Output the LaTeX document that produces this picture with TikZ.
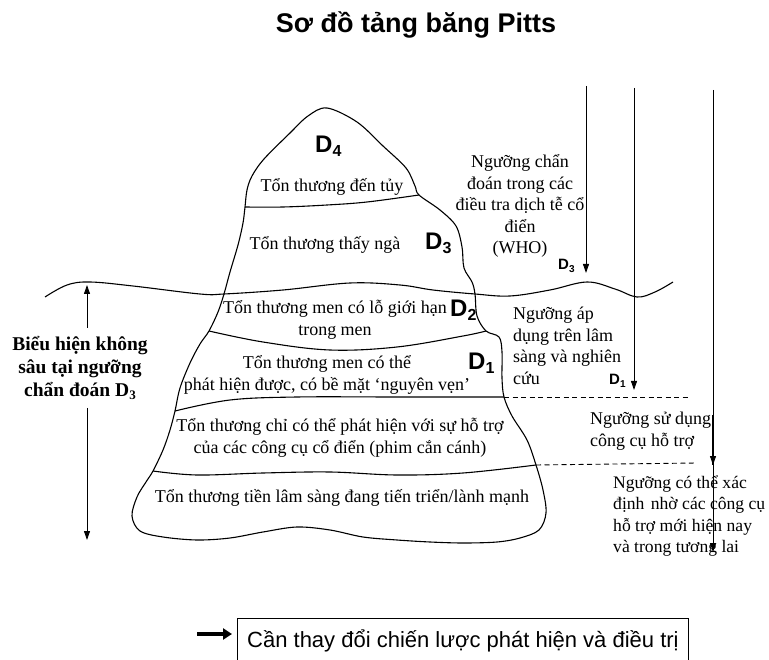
\documentclass[tikz,border=0pt]{standalone}
\usepackage{fontspec}
\usepackage{graphicx}
\setmainfont{Liberation Serif}
\newfontfamily\arialfont{Liberation Sans}
\usetikzlibrary{arrows.meta}

\newcommand\fsz[2]{\fontsize{#1}{#2}\selectfont}
% large grade labels inside the iceberg
\newcommand\Dbig[1]{{\arialfont\bfseries\fsz{24}{24}D\raisebox{-4pt}{\fsz{16}{16}#1}}}
% small grade labels at the threshold arrows
\newcommand\Dsmall[1]{{\arialfont\bfseries\fsz{15}{15}D\raisebox{-2.5pt}{\fsz{10}{10}#1}}}

\tikzset{
  berg/.style={line width=1.1pt, line join=round},
  band/.style={line width=1.1pt},
  dashline/.style={line width=0.9pt, dash pattern=on 5pt off 3.5pt},
  thresh/.style={line width=0.9pt, -{Triangle[length=9pt,width=6pt]}},
  lbl/.style={inner sep=0pt, font=\fsz{18}{21.5}, align=center},
  lblL/.style={inner sep=0pt, font=\fsz{18}{21.5}, align=left, anchor=west},
  dlab/.style={inner sep=0pt, anchor=base west},
  fatarrow/.style={line width=3.2pt, -{Triangle[length=9pt,width=11pt]}},
}

\begin{document}
\begin{tikzpicture}[x=1pt,y=-1pt]
\useasboundingbox (0,0) rectangle (769,660);

% junction points where the band lines meet the outline
\coordinate (J1L) at (245,207);  \coordinate (J1R) at (419,195);
\coordinate (WL)  at (224,294);  \coordinate (WR)  at (475,294);
\coordinate (J2L) at (209,331);  \coordinate (J2R) at (486,331);
\coordinate (J3L) at (175,411);  \coordinate (J3R) at (504,397);
\coordinate (J4L) at (153,471);  \coordinate (J4R) at (536,465);

% iceberg outline
\draw[berg] plot[smooth cycle, tension=0.55] coordinates {
  (327,108) (357,122) (383,146) (406,168) (415,186) (J1R)
  (440,210) (456,226) (462,247) (464,268) (472,282) (WR)
  (477,316) (J2R) (499,337) (502,352) (502,378) (J3R)
  (512,416) (527,440) (J4R) (543,490) (546,513) (539,530)
  (520,538) (497,542) (463,543) (430,542) (397,540) (363,537)
  (330,530) (297,527) (263,532) (230,538) (197,540) (163,537)
  (140,531) (132,516) (137,497) (146,482) (J4L) (163,450)
  (170,430) (J3L) (180,388) (190,363) (200,344) (J2L)
  (218,312) (WL) (230,272) (238,245) (243,223) (J1L)
  (247,190) (252,176) (264,159) (290,133) (308,116)};

% band boundaries
\draw[band] plot[smooth, tension=0.6] coordinates {(J1L) (283,207) (327,205) (367,202) (J1R)};
\draw[band] plot[smooth, tension=0.6] coordinates {
  (45,297) (67,285) (90,282) (133,286) (200,294) (WL) (283,290) (350,283)
  (400,285) (433,290) (WR) (510,296) (550,290) (587,282) (615,289)
  (637,297) (655,292) (673,282)};
\draw[band] plot[smooth, tension=0.6] coordinates {(J2L) (263,342) (330,350) (397,347) (463,336) (J2R)};
\draw[band] plot[smooth, tension=0.6] coordinates {(J3L) (230,400) (297,397) (397,397) (J3R)};
\draw[band] plot[smooth, tension=0.6] coordinates {(J4L) (197,475) (263,473) (330,472) (397,475) (463,473) (J4R)};

% threshold levels
\coordinate (d1end) at (690,397);
\coordinate (d2end) at (697,463);
\draw[dashline] (J3R) -- (d1end);
\draw[dashline] (J4R) -- (d2end);

% band texts
\node[lbl] (t1) at (332,187) {Tổn thương đến tủy};
\node[lbl] (t2) at (325,245) {Tổn thương thấy ngà};
\node[lbl] (t3) at (335,320) {Tổn thương men có lỗ giới hạn\\trong men};
\node[lbl] (t4) at (327,375) {Tổn thương men có thể\\phát hiện được, có bề mặt ‘nguyên vẹn’};
\node[lbl] (t5) at (340,438) {Tổn thương chỉ có thể phát hiện với sự hỗ trợ\\của các công cụ cổ điển (phim cắn cánh)};
\node[lbl] (t6) at (342,498) {Tổn thương tiền lâm sàng đang tiến triển/lành mạnh};

% grade labels
\node[dlab] (g4) at (315,153) {\Dbig{4}};
\node[dlab] (g3) at (425,250) {\Dbig{3}};
\node[dlab] (g2) at (450,317) {\Dbig{2}};
\node[dlab] (g1) at (468,370) {\Dbig{1}};

% threshold arrows
\coordinate (a1s) at (586,86);  \coordinate (a1e) at (586,273);
\coordinate (a2s) at (634,88);  \coordinate (a2e) at (634,390);
\coordinate (a3s) at (713,90);  \coordinate (a3m) at (713,465);
\coordinate (a3e) at (713,552); \coordinate (a3k) at (713,415);
\draw[thresh] (a1s) -- (a1e);
\draw[thresh] (a2s) -- (a2e);
\draw[thresh] (a3s) -- (a3m);
\draw[line width=1.8pt] (a3k) -- (a3m);
\draw[thresh] (a3m) -- (a3e);

\node[dlab] (s3) at (558,270) {\Dsmall{3}};
\node[dlab] (s1) at (609,385) {\Dsmall{1}};

% threshold descriptions
\node[lbl] (who) at (520,206) {Ngưỡng chẩn\\đoán trong các\\điều tra dịch tễ cổ\\điển\\(WHO)};
\node[lblL] (clin) at (513,346) {Ngưỡng áp\\dụng trên lâm\\sàng và nghiên\\cứu};
\node[lblL] (tool) at (590,431) {Ngưỡng sử dụng\\công cụ hỗ trợ};
\node[lblL, font=\fsz{17.6}{21.5}] (future) at (613,516) {Ngưỡng có thể xác\\định\hspace{2pt} nhờ các công cụ\\hỗ trợ mới hiện nay\\và trong tương lai};

% depth below the D3 threshold
\node[inner sep=0pt, align=center, font=\bfseries\fsz{19.5}{23}] (deep) at (80,368)
  {Biểu hiện không\\sâu tại ngưỡng\\chẩn đoán D\raisebox{-3pt}{\fsz{13}{13}3}};
\coordinate (ltop) at (87,285); \coordinate (lgap1) at (87,328);
\coordinate (lbot) at (87,540); \coordinate (lgap2) at (87,408);
\draw[thresh] (lgap1) -- (ltop);
\draw[thresh] (lgap2) -- (lbot);

% title
\node[anchor=base, inner sep=0pt, font=\arialfont\bfseries\fsz{27}{27}] (title) at (416,33) {Sơ đồ tảng băng Pitts};

% conclusion box
\node[draw, line width=0.9pt, anchor=north west, font=\arialfont\fsz{22}{24},
      text height=16pt, text depth=5pt, inner ysep=13pt, inner xsep=0pt,
      minimum width=451pt] (advice) at (237,618) {Cần thay đổi chiến lược phát hiện và điều trị};
\coordinate (arrowtail) at (197,634);
\draw[fatarrow, shorten >=5pt] (arrowtail) -- (advice.west |- arrowtail);
\end{tikzpicture}
\end{document}
